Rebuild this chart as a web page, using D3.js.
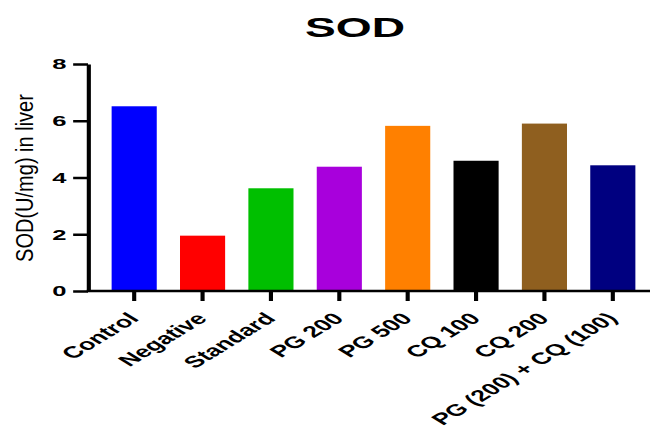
<!DOCTYPE html>
<html>
<head>
<meta charset="utf-8">
<script src="https://cdn.jsdelivr.net/npm/d3@7"></script>
<style>
  html, body { margin: 0; padding: 0; background: #fff; }
  svg { display: block; }
  text { font-family: "Liberation Sans", Arial, sans-serif; }
</style>
</head>
<body>
<script>
// ---- data ----
const categories = ["Control", "Negative", "Standard", "PG 200", "PG 500", "CQ 100", "CQ 200", "PG (200) + CQ (100)"];
const values = [6.51, 1.95, 3.62, 4.38, 5.82, 4.59, 5.90, 4.43];
const colors = ["#0000FF", "#FF0000", "#00BF00", "#A800DC", "#FF8000", "#000000", "#8F5F1F", "#000080"];
const yTicks = [0, 2, 4, 6, 8];
const title = "SOD";
const yLabel = "SOD(U/mg) in liver";

// ---- layout ----
const W = 651, H = 428;
const SX = 1.65; // horizontal stretch of the reference image
const axisX = 88 / SX, axisEnd = 650 / SX;
const y0 = 291, yTop = 64;

const svg = d3.select("body").append("svg").attr("width", W).attr("height", H);
const g = svg.append("g").attr("transform", `scale(${SX},1)`);

const x = d3.scaleBand().domain(categories).range([100 / SX, 647 / SX]).paddingInner(0.34).paddingOuter(0.17);
const y = d3.scaleLinear().domain([0, 8]).range([y0, yTop]);

// bars
g.selectAll("rect.bar").data(categories).enter().append("rect")
  .attr("class", "bar")
  .attr("x", d => x(d))
  .attr("width", x.bandwidth())
  .attr("y", (d, i) => y(values[i]))
  .attr("height", (d, i) => y(0) - y(values[i]))
  .attr("fill", (d, i) => colors[i]);

// y axis
const yAxis = g.append("g").attr("transform", `translate(${axisX},0)`)
  .call(d3.axisLeft(y).tickValues(yTicks).tickSize(9).tickSizeOuter(0).tickPadding(4));
yAxis.select(".domain").attr("stroke", "#000").attr("stroke-width", 2.5);
yAxis.selectAll(".tick line").attr("stroke", "#000").attr("stroke-width", 2.5);
yAxis.selectAll(".tick text").attr("font-size", 15.5).attr("font-weight", "bold").attr("fill", "#000")
  .attr("font-family", "Liberation Sans, Arial, sans-serif");

// x axis
const xAxis = g.append("g").attr("transform", `translate(0,${y0})`)
  .call(d3.axisBottom(x).tickSize(10).tickSizeOuter(0));
xAxis.select(".domain").remove();
xAxis.selectAll(".tick line").attr("stroke", "#000").attr("stroke-width", 2.5);
xAxis.selectAll(".tick text")
  .attr("font-size", 16.2).attr("font-weight", "bold").attr("fill", "#000")
  .attr("font-family", "Liberation Sans, Arial, sans-serif")
  .attr("text-anchor", "end")
  .attr("dy", null)
  .attr("y", 0)
  .attr("transform", "translate(3.5,28.5) rotate(-45)");
g.append("line")
  .attr("x1", axisX - 0.75).attr("x2", axisEnd)
  .attr("y1", y0).attr("y2", y0)
  .attr("stroke", "#000").attr("stroke-width", 2.5);

// title
g.append("text").attr("x", 355 / SX).attr("y", 37)
  .attr("text-anchor", "middle").attr("font-size", 28).attr("font-weight", "bold")
  .text(title);

// y label (glyph height slightly stretched)
svg.append("text")
  .attr("transform", `translate(33,178) rotate(-90) scale(1,1.15)`)
  .attr("text-anchor", "middle").attr("font-size", 20)
  .text(yLabel);
</script>
</body>
</html>
